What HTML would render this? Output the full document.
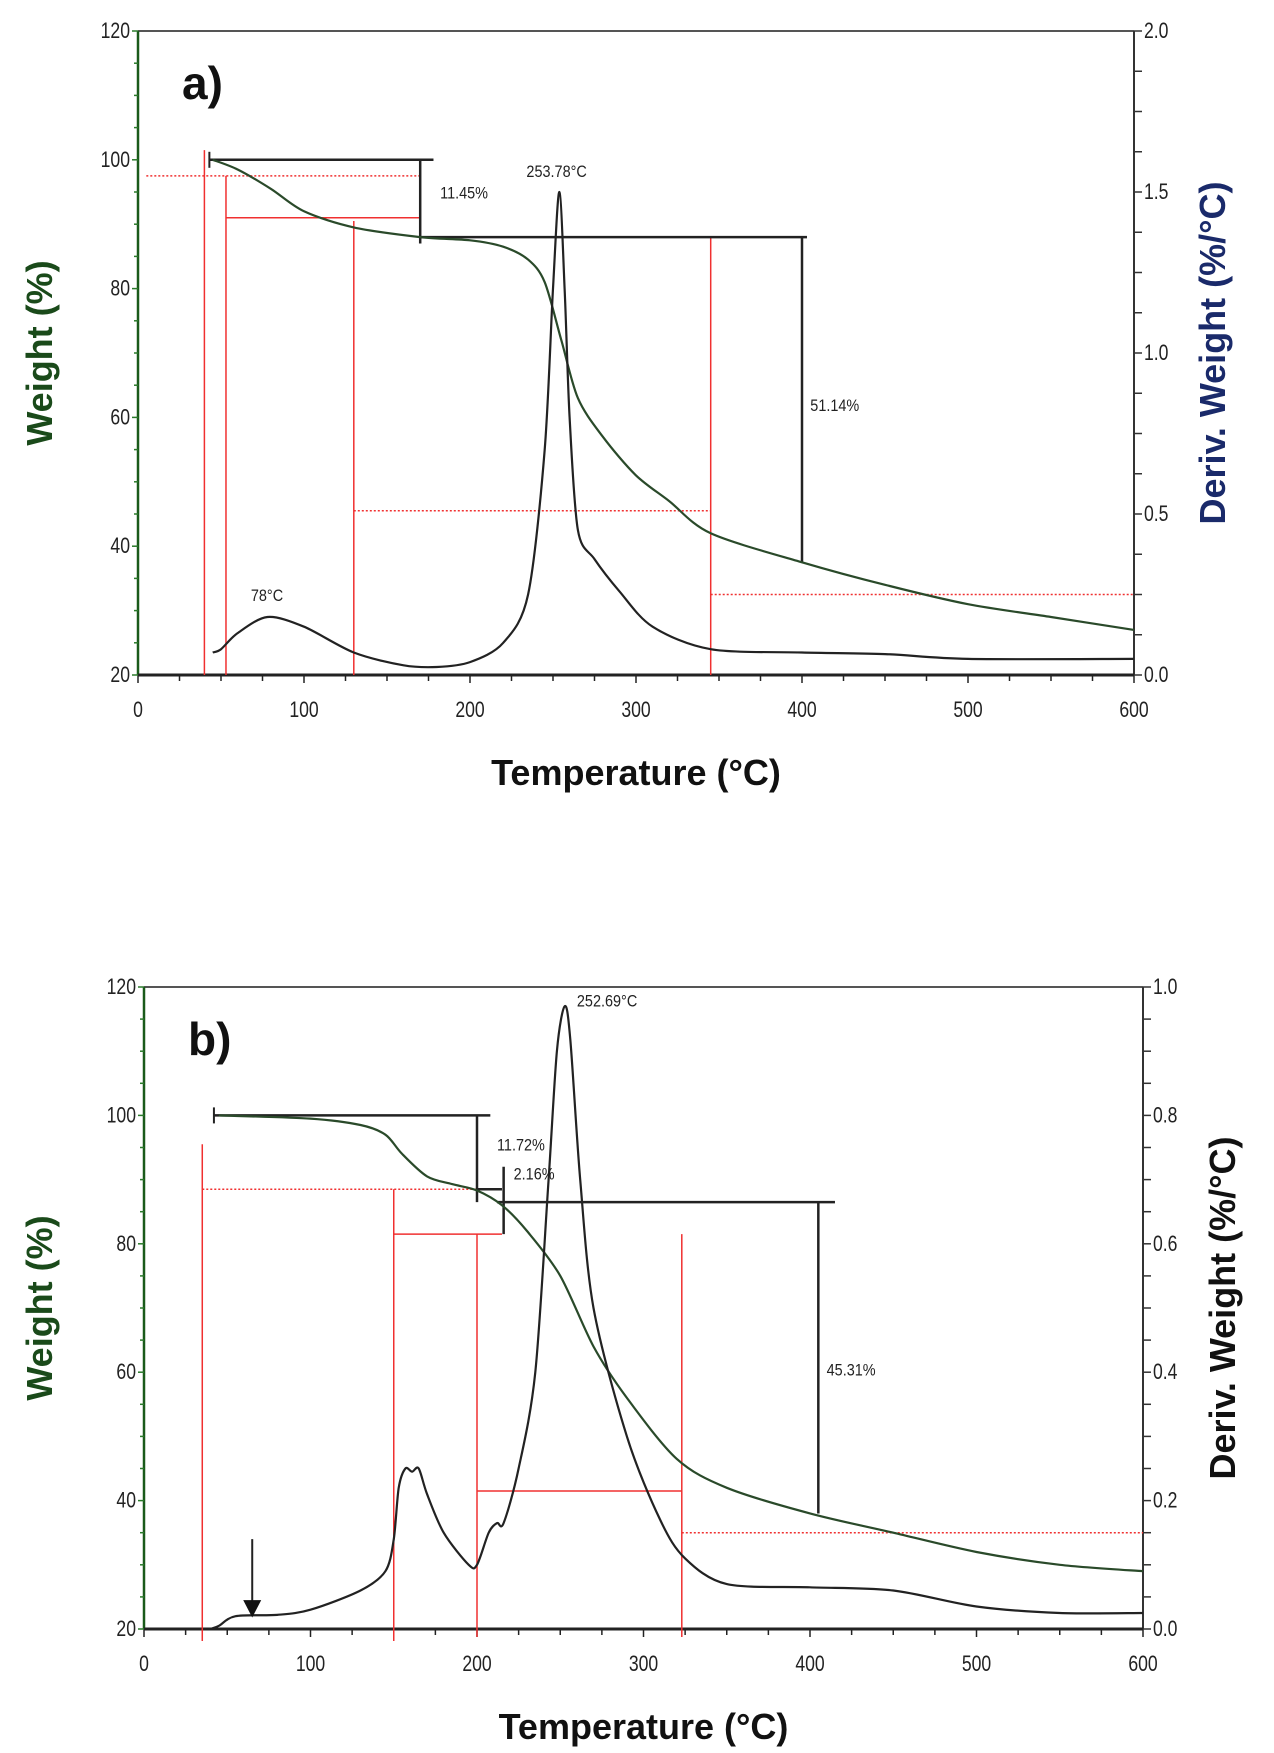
<!DOCTYPE html>
<html><head><meta charset="utf-8"><style>
body{margin:0;background:#fff;width:1274px;height:1753px;overflow:hidden}
svg{display:block}
text{font-family:"Liberation Sans",sans-serif}
</style></head><body>
<svg id="fig" width="1274" height="1753" viewBox="0 0 1274 1753"></svg>
<script>
const ticksX=[0,100,200,300,400,500,600];
const ticksW=[20,40,60,80,100,120];
const ticksDA=[0.0,0.5,1.0,1.5,2.0];
const ticksDB=[0.0,0.2,0.4,0.6,0.8,1.0];
const aWeightT=[45,60,80,100,130,170,200,220,235,245,255,265,280,300,320,345,400,450,500,550,600];
const aWeightV=[100,98.5,95.5,92,89.5,88,87.5,86.5,84.5,81,72,63,57,51,47,42,37.5,34,31,29,27];
const aDerivT=[45,50,60,78,100,130,160,180,200,220,235,245,250,253.8,257,260,265,275,290,310,345,400,450,500,600];
const aDerivV=[0.07,0.08,0.13,0.18,0.15,0.07,0.03,0.025,0.04,0.1,0.25,0.7,1.2,1.5,1.2,0.8,0.45,0.36,0.26,0.15,0.08,0.07,0.065,0.05,0.05];
const bWeightT=[45,100,130,145,155,170,185,200,215,230,250,270,290,320,350,400,450,500,550,600];
const bWeightV=[100,99.5,98.5,97,94,90.5,89.3,88.3,86,82,75,64,56,46.5,42,38,35,32,30,29];
const bDerivT=[40,45,55,80,100,130,145,150,153,157,161,165,170,180,195,200,207,212,216,225,235,243,248,252.7,256,262,270,290,310,325,350,400,450,500,550,600];
const bDerivV=[0,0.005,0.02,0.022,0.03,0.06,0.09,0.14,0.22,0.25,0.245,0.25,0.21,0.15,0.1,0.1,0.15,0.165,0.165,0.25,0.4,0.7,0.9,0.97,0.92,0.7,0.5,0.3,0.17,0.11,0.07,0.065,0.06,0.035,0.025,0.025];

const NS="http://www.w3.org/2000/svg";
const svg=document.getElementById('fig');
function el(tag,attrs,parent,txt){const e=document.createElementNS(NS,tag);for(const k in attrs)e.setAttribute(k,attrs[k]);if(txt!==undefined)e.textContent=txt;(parent||svg).appendChild(e);return e;}
function smooth(pts){
  let d=`M${pts[0][0].toFixed(1)},${pts[0][1].toFixed(1)}`;
  const k=0.15;
  for(let i=0;i<pts.length-1;i++){
    const p0=pts[Math.max(0,i-1)],p1=pts[i],p2=pts[i+1],p3=pts[Math.min(pts.length-1,i+2)];
    const c1=[p1[0]+(p2[0]-p0[0])*k,p1[1]+(p2[1]-p0[1])*k];
    const c2=[p2[0]-(p3[0]-p1[0])*k,p2[1]-(p3[1]-p1[1])*k];
    d+=` C${c1[0].toFixed(1)},${c1[1].toFixed(1)} ${c2[0].toFixed(1)},${c2[1].toFixed(1)} ${p2[0].toFixed(1)},${p2[1].toFixed(1)}`;
  }
  return d;
}

function panel(cfg){
  const g=el('g',{});
  
  
  const L=cfg.L,R=cfg.R,T=cfg.T,B=cfg.B;
  const x=v=>L+(v/600)*(R-L);
  const yw=v=>B-(v-20)/100*(B-T);
  const yd=v=>B-v/cfg.dmax*(B-T);
  el('line',{x1:L,y1:T,x2:R,y2:T,stroke:'#555','stroke-width':2},g);
  el('line',{x1:R,y1:T,x2:R,y2:B,stroke:'#333','stroke-width':2},g);
  el('line',{x1:L,y1:T,x2:L,y2:B,stroke:'#1a5a1a','stroke-width':2.5},g);
  el('line',{x1:L,y1:B,x2:R,y2:B,stroke:'#222','stroke-width':3},g);
  for(let v=0;v<=600;v+=25){el('line',{x1:x(v),y1:B,x2:x(v),y2:B+(v%100==0?8:6),stroke:'#222','stroke-width':1.5},g);}
  ticksX.forEach(v=>{const t=el('text',{x:x(v),y:B+42,'font-size':22,'text-anchor':'middle',fill:'#222',transform:`translate(${x(v)},0) scale(0.8,1) translate(${-x(v)},0)`},g,v);});
  for(let v=20;v<=120;v+=5){el('line',{x1:L,y1:yw(v),x2:L-(v%20==0?6:4),y2:yw(v),stroke:'#2a7a2a','stroke-width':1.5},g);}
  ticksW.forEach(v=>{const t=el('text',{x:L-8,y:yw(v)+7,'font-size':22,'text-anchor':'end',fill:'#222',transform:`translate(${L-8},0) scale(0.8,1) translate(${-(L-8)},0)`},g,v);});
  const n=(cfg.dmax==2?16:20),dstep=cfg.dmax/n;
  for(let i=0;i<=n;i++){const yy=yd(i*dstep);el('line',{x1:R,y1:yy,x2:R+8,y2:yy,stroke:'#333','stroke-width':1.5},g);}
  cfg.dticks.forEach(v=>{const t=el('text',{x:R+10,y:yd(v)+7,'font-size':22,fill:'#222',transform:`translate(${R+10},0) scale(0.8,1) translate(${-(R+10)},0)`},g,v.toFixed(1));});
  let t=el('text',{x:(L+R)/2,y:B+110,'font-size':36,'font-weight':'bold','text-anchor':'middle',fill:'#111'},g,'Temperature (°C)');
  
  const cy=(T+B)/2;
  t=el('text',{x:52,y:cy,'font-size':36,'font-weight':'bold','text-anchor':'middle',fill:'#1a4a1a',transform:`rotate(-90 52 ${cy})`},g,'Weight  (%)');
  
  const rx=cfg.rtx;
  t=el('text',{x:rx,y:cy,'font-size':36,'font-weight':'bold','text-anchor':'middle',fill:cfg.rcol,transform:`rotate(-90 ${rx} ${cy})`},g,'Deriv. Weight  (%/°C)');
  
  t=el('text',{x:L+44,y:T+68,'font-size':46,'font-weight':'bold',fill:'#111'},g,cfg.label);
  
  cfg.red.forEach(r=>{
    const o=r.v?{x1:x(r.v),y1:B+(r.ext||0),x2:x(r.v),y2:yw(r.to)}:{x1:x(r.x1),y1:yw(r.y),x2:x(r.x2),y2:yw(r.y)};
    Object.assign(o,{stroke:'#f03030','stroke-width':1.5});
    if(r.dot)o['stroke-dasharray']='2,2';
    const ln=el('line',o,g);
  });
  cfg.black.forEach(r=>{
    const o=r.vx!==undefined?{x1:x(r.vx),y1:yw(r.y1),x2:x(r.vx),y2:yw(r.y2)}:{x1:x(r.x1),y1:yw(r.y),x2:x(r.x2),y2:yw(r.y)};
    Object.assign(o,{stroke:'#222','stroke-width':2.5});
    const ln=el('line',o,g);
    if(r.cap){el('line',{x1:x(r.x1),y1:yw(r.y)-8,x2:x(r.x1),y2:yw(r.y)+8,stroke:'#222','stroke-width':2},g);}
  });
  let p=el('path',{d:smooth(cfg.wT.map((v,i)=>[x(v),yw(cfg.wV[i])])),fill:'none',stroke:'#2a4a2a','stroke-width':2.2},g);
  
  p=el('path',{d:smooth(cfg.dT.map((v,i)=>[x(v),yd(cfg.dV[i])])),fill:'none',stroke:'#222','stroke-width':2.2},g);
  
  cfg.notes.forEach(nn=>{const tt=el('text',{x:x(nn.x),y:yw(nn.y),'font-size':17,fill:'#222',transform:`translate(${x(nn.x)},0) scale(0.85,1) translate(${-x(nn.x)},0)`},g,nn.t);});
  if(cfg.arrow){const ax=x(cfg.arrow);el('line',{x1:ax,y1:yd(0.14),x2:ax,y2:yd(0.04),stroke:'#222','stroke-width':2},g);
    const ar=el('polygon',{points:`${ax-9},${yd(0.045)} ${ax+9},${yd(0.045)} ${ax},${yd(0.018)}`,fill:'#111'},g);}
}

panel({name:'panel-a',label:'a)',L:138,R:1134,T:31,B:675,dmax:2,dticks:ticksDA,rtx:1225,rcol:'#1a2a6a',
 wT:aWeightT,wV:aWeightV,dT:aDerivT,dV:aDerivV,
 red:[{v:40,to:101.5},{v:53,to:97.5},{v:130,to:90.5},{v:345,to:88},
  {x1:5,x2:170,y:97.5,dot:1},{x1:53,x2:170,y:91},{x1:130,x2:345,y:45.5,dot:1},{x1:345,x2:600,y:32.5,dot:1}],
 black:[{x1:43,x2:178,y:100,cap:1},{vx:170,y1:100,y2:87},{x1:170,x2:403,y:88},{vx:400,y1:88,y2:37.5}],
 notes:[{x:182,y:94,t:'11.45%'},{x:234,y:97.3,t:'253.78°C'},{x:405,y:61,t:'51.14%'},{x:68,y:31.5,t:'78°C'}]});
panel({name:'panel-b',label:'b)',L:144,R:1143,T:987,B:1629,dmax:1,dticks:ticksDB,rtx:1235,rcol:'#111',
 wT:bWeightT,wV:bWeightV,dT:bDerivT,dV:bDerivV,arrow:65,
 red:[{v:35,to:95.5,ext:12},{v:150,to:88.5,ext:12},{v:200,to:81.5,ext:8},{v:323,to:81.5,ext:8},
  {x1:35,x2:215,y:88.5,dot:1},{x1:150,x2:215,y:81.5},{x1:200,x2:323,y:41.5},{x1:323,x2:600,y:35,dot:1}],
 black:[{x1:42,x2:208,y:100,cap:1},{vx:200,y1:100,y2:86.5},{x1:200,x2:215,y:88.5},{vx:216,y1:92,y2:81.5},{x1:212,x2:415,y:86.5},{vx:405,y1:86.5,y2:38}],
 notes:[{x:212,y:94.5,t:'11.72%'},{x:222,y:90,t:'2.16%'},{x:410,y:59.5,t:'45.31%'},{x:260,y:117,t:'252.69°C'}]});
</script>
</body></html>
